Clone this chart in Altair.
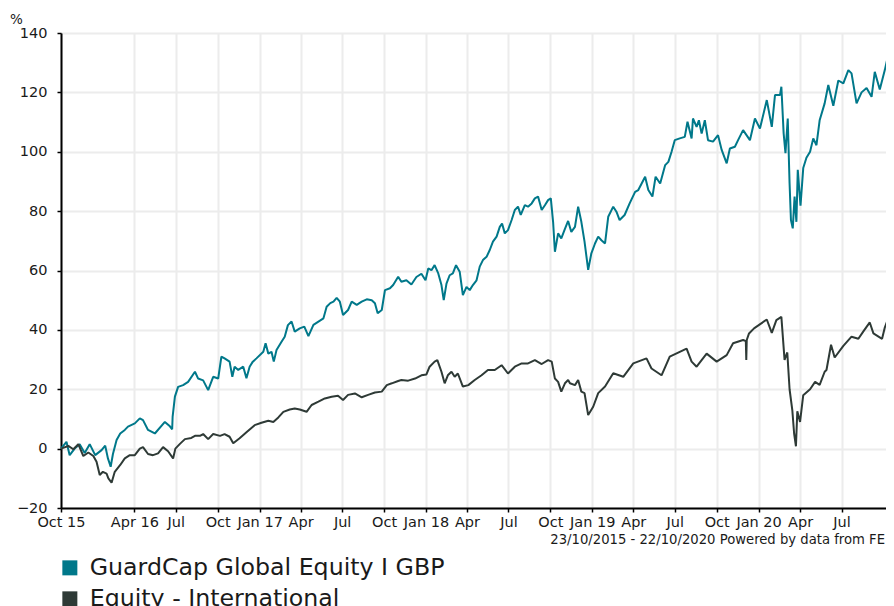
import altair as alt
import pandas as pd

FUND_NAME = "GuardCap Global Equity I GBP"
SECTOR_NAME = "Equity - International"
FUND_COLOR = "#00788a"
SECTOR_COLOR = "#2e3a36"

FUND_DATES = [
    "2015-10-23", "2015-11-04", "2015-11-11", "2015-11-22", "2015-12-03", "2015-12-14", "2015-12-25",
    "2016-01-06", "2016-01-20", "2016-01-28", "2016-02-03", "2016-02-09", "2016-02-14", "2016-02-22",
    "2016-03-01", "2016-03-11", "2016-03-18", "2016-04-02", "2016-04-13", "2016-04-20", "2016-05-01",
    "2016-05-16", "2016-06-07", "2016-06-18", "2016-06-23", "2016-06-24", "2016-06-29", "2016-07-06",
    "2016-07-17", "2016-07-28", "2016-08-12", "2016-08-19", "2016-08-30", "2016-09-10", "2016-09-21",
    "2016-10-02", "2016-10-09", "2016-10-16", "2016-10-27", "2016-11-02", "2016-11-07", "2016-11-15",
    "2016-11-26", "2016-12-03", "2016-12-10", "2016-12-17", "2016-12-25",
    "2017-01-09", "2017-01-14", "2017-01-20", "2017-01-27", "2017-02-01", "2017-02-07", "2017-02-18",
    "2017-02-25", "2017-03-04", "2017-03-12", "2017-03-19", "2017-03-30", "2017-04-09", "2017-04-18",
    "2017-04-29", "2017-05-10", "2017-05-21", "2017-05-28", "2017-06-05", "2017-06-12", "2017-06-19",
    "2017-06-26", "2017-07-03", "2017-07-14", "2017-07-22", "2017-08-02", "2017-08-13", "2017-08-24",
    "2017-09-04", "2017-09-11", "2017-09-17", "2017-09-26", "2017-10-03", "2017-10-14", "2017-10-21",
    "2017-11-01", "2017-11-08", "2017-11-19", "2017-11-30", "2017-12-11", "2017-12-22", "2017-12-31",
    "2018-01-06", "2018-01-13", "2018-01-20", "2018-01-28", "2018-02-04", "2018-02-09", "2018-02-15",
    "2018-02-22", "2018-03-01", "2018-03-08", "2018-03-16", "2018-03-23", "2018-03-31", "2018-04-07",
    "2018-04-14", "2018-04-22", "2018-04-29", "2018-05-06", "2018-05-14", "2018-05-21", "2018-05-28",
    "2018-06-05", "2018-06-12", "2018-06-17", "2018-06-23", "2018-06-30", "2018-07-08", "2018-07-15",
    "2018-07-22", "2018-07-28", "2018-08-06", "2018-08-13", "2018-08-21", "2018-08-28", "2018-09-04",
    "2018-09-12", "2018-09-19", "2018-09-26", "2018-10-02", "2018-10-07", "2018-10-11", "2018-10-18",
    "2018-10-25", "2018-11-02", "2018-11-09", "2018-11-16", "2018-11-24", "2018-12-01", "2018-12-08",
    "2018-12-15", "2018-12-23", "2018-12-30",
    "2019-01-07", "2019-01-14", "2019-01-21", "2019-01-29", "2019-02-05", "2019-02-16", "2019-02-23",
    "2019-03-02", "2019-03-13", "2019-03-24", "2019-04-05", "2019-04-12", "2019-04-27", "2019-05-04",
    "2019-05-13", "2019-05-20", "2019-05-30", "2019-06-10", "2019-06-17", "2019-06-24", "2019-07-01",
    "2019-07-12", "2019-07-23", "2019-07-29", "2019-08-07", "2019-08-10", "2019-08-18", "2019-08-23",
    "2019-08-29", "2019-09-05", "2019-09-12", "2019-09-23", "2019-10-04", "2019-10-12", "2019-10-23",
    "2019-10-30", "2019-11-10", "2019-11-17", "2019-11-28", "2019-12-13", "2019-12-24",
    "2020-01-04", "2020-01-19", "2020-01-30", "2020-02-06", "2020-02-17", "2020-02-20", "2020-02-25",
    "2020-02-29", "2020-03-05", "2020-03-09", "2020-03-12", "2020-03-16", "2020-03-20", "2020-03-24",
    "2020-03-27", "2020-04-02", "2020-04-08", "2020-04-15", "2020-04-23", "2020-04-30", "2020-05-07",
    "2020-05-14", "2020-05-25", "2020-06-02", "2020-06-13", "2020-06-24", "2020-07-05", "2020-07-16",
    "2020-07-23", "2020-08-03", "2020-08-14", "2020-08-25", "2020-09-05", "2020-09-12", "2020-09-23",
    "2020-10-04", "2020-10-12", "2020-10-22",
]
FUND_VALUES = [
    0.0, 2.3, -2.2, 0.0, 1.5, -1.5, 1.5,
    -2.2, -0.5, 1.0, -3.3, -6.1, -1.8, 2.9,
    5.1, 6.3, 7.4, 8.5, 10.2, 9.6, 6.3,
    5.1, 9.0, 7.5, 6.5, 10.8, 17.5, 20.8,
    21.4, 22.5, 25.9, 23.6, 23.0, 19.7, 24.2,
    23.6, 31.0, 30.4, 29.3, 24.2, 27.6, 26.5,
    27.6, 23.7, 27.6, 29.3, 30.4,
    32.6, 35.5, 32.0, 32.6, 29.3, 33.2, 36.0,
    37.7, 41.6, 42.8, 39.4, 40.5, 41.1, 37.9,
    41.7, 42.8, 43.9, 47.8, 49.0, 49.5, 50.8,
    49.5, 45.0, 46.7, 49.5, 48.4, 49.5, 50.3,
    50.0, 49.0, 45.6, 46.7, 53.4, 54.0, 55.1,
    57.9, 56.2, 56.7, 55.3, 57.8, 58.9, 56.7,
    60.7, 60.1, 61.8, 59.0, 55.1, 50.0, 55.6,
    58.4, 59.0, 61.8, 59.6, 51.7, 54.5, 53.4,
    55.1, 56.7, 61.3, 63.5, 64.6, 66.9, 69.7,
    71.4, 74.7, 75.8, 72.5, 73.6, 77.0, 80.4,
    81.5, 78.7, 82.0, 81.5, 82.6, 84.3, 84.9,
    80.4, 82.0, 83.7, 84.3, 76.4, 66.3, 72.5,
    70.8, 74.0, 76.7, 73.0, 74.7, 81.5, 76.4,
    69.7, 60.2, 65.8,
    69.1, 71.4, 70.2, 69.1, 78.1, 81.5, 79.8,
    77.0, 78.7, 82.6, 86.5, 87.1, 91.6, 87.1,
    84.9, 91.6, 89.3, 95.5, 96.6, 100.0, 103.9,
    104.5, 105.0, 110.1, 104.5, 111.2, 108.4, 110.6,
    106.1, 110.6, 103.9, 103.4, 105.6, 100.6, 96.1,
    101.1, 101.7, 103.9, 107.3, 103.9, 111.2,
    107.8, 117.4, 108.4, 119.1, 119.1, 121.9, 106.2,
    99.5, 111.2, 89.4, 77.0, 74.2, 84.9, 76.4,
    93.9, 81.8, 94.5, 98.0, 100.0, 104.5, 102.2,
    110.6, 116.3, 122.5, 115.5, 124.0, 123.0, 127.5,
    126.4, 116.3, 120.0, 121.5, 118.5, 126.9, 121.0,
    127.5, 133.0, 126.0,
]

SECTOR_DATES = [
    "2015-10-23", "2015-11-08", "2015-11-19", "2015-11-30", "2015-12-11", "2015-12-22",
    "2016-01-02", "2016-01-09", "2016-01-16", "2016-01-23", "2016-01-31", "2016-02-04", "2016-02-11",
    "2016-02-18", "2016-03-01", "2016-03-11", "2016-03-22", "2016-04-02", "2016-04-13", "2016-04-20",
    "2016-05-01", "2016-05-12", "2016-05-23", "2016-06-03", "2016-06-14", "2016-06-25", "2016-06-30",
    "2016-07-10", "2016-07-21", "2016-08-04", "2016-08-12", "2016-08-23", "2016-08-30", "2016-09-10",
    "2016-09-21", "2016-10-06", "2016-10-16", "2016-10-27", "2016-11-04", "2016-11-18", "2016-12-03",
    "2016-12-21",
    "2017-01-05", "2017-01-20", "2017-01-31", "2017-02-11", "2017-02-22", "2017-03-08", "2017-03-19",
    "2017-03-30", "2017-04-14", "2017-04-25", "2017-05-10", "2017-05-24", "2017-06-08", "2017-06-22",
    "2017-07-03", "2017-07-14", "2017-07-29", "2017-08-13", "2017-08-27", "2017-09-11", "2017-09-26",
    "2017-10-07", "2017-10-18", "2017-11-01", "2017-11-08", "2017-11-23", "2017-12-08", "2017-12-22",
    "2018-01-02", "2018-01-09", "2018-01-20", "2018-01-26", "2018-02-04", "2018-02-11", "2018-02-18",
    "2018-02-26", "2018-03-05", "2018-03-12", "2018-03-23", "2018-04-04", "2018-04-18", "2018-05-03",
    "2018-05-17", "2018-06-01", "2018-06-16", "2018-06-30", "2018-07-15", "2018-07-30", "2018-08-13",
    "2018-08-28", "2018-09-12", "2018-09-26", "2018-10-04", "2018-10-11", "2018-10-18", "2018-10-25",
    "2018-11-02", "2018-11-09", "2018-11-13", "2018-11-24", "2018-12-01", "2018-12-08", "2018-12-15",
    "2018-12-23",
    "2019-01-03", "2019-01-14", "2019-01-29", "2019-02-16", "2019-03-10", "2019-04-01", "2019-04-30",
    "2019-05-11", "2019-06-02", "2019-06-20", "2019-07-12", "2019-07-27", "2019-08-07", "2019-08-18",
    "2019-09-09", "2019-10-01", "2019-10-23", "2019-11-06", "2019-11-28", "2019-12-04", "2019-12-05",
    "2019-12-06", "2019-12-11", "2019-12-22",
    "2020-01-19", "2020-01-30", "2020-02-09", "2020-02-20", "2020-02-27", "2020-03-04", "2020-03-09",
    "2020-03-15", "2020-03-19", "2020-03-23", "2020-03-26", "2020-04-01", "2020-04-08", "2020-04-23",
    "2020-05-04", "2020-05-14", "2020-05-25", "2020-05-29", "2020-06-08", "2020-06-16", "2020-07-05",
    "2020-07-23", "2020-08-07", "2020-08-18", "2020-09-01", "2020-09-09", "2020-09-28", "2020-10-04",
    "2020-10-13", "2020-10-22",
]
SECTOR_VALUES = [
    0.0, 0.9, -0.2, 1.5, -2.5, -1.3,
    -2.5, -4.4, -8.9, -7.8, -8.4, -10.0, -11.5,
    -7.8, -5.5, -3.3, -2.2, -2.2, 0.0, 0.5,
    -1.8, -2.2, -1.6, 0.5, -0.9, -3.3, 0.0,
    1.6, 3.2, 3.6, 4.3, 4.3, 4.9, 3.2,
    4.9, 4.3, 4.9, 4.0, 1.8, 3.5, 5.5,
    7.9,
    8.7, 9.4, 9.0, 10.5, 12.4, 13.2, 13.5,
    13.2, 12.4, 14.7, 15.8, 16.9, 17.5, 17.8,
    16.4, 18.1, 18.6, 17.3, 18.1, 18.9, 19.2,
    21.4, 22.0, 22.8, 23.1, 22.9, 23.6, 24.7,
    25.0, 27.6, 29.3, 29.8, 25.9, 22.0, 24.7,
    25.9, 24.2, 25.3, 20.9, 21.4, 23.1, 24.7,
    26.5, 26.5, 28.1, 25.3, 27.6, 28.7, 28.7,
    29.8, 28.5, 29.8, 29.3, 23.6, 22.5, 19.2,
    22.0, 23.1, 22.0, 21.4, 23.1, 19.2, 18.7,
    11.3,
    14.1, 18.7, 20.9, 25.4, 24.2, 28.7, 30.4,
    27.0, 24.7, 31.0, 32.6, 33.7, 29.3, 27.6,
    32.0, 29.3, 31.5, 35.5, 36.6, 36.2, 29.9,
    36.6, 38.8, 40.5,
    43.5, 39.0, 43.3, 44.4, 29.9, 32.4, 20.0,
    13.0, 5.1, 0.8, 12.6, 9.0, 18.0, 20.0,
    22.5, 21.5, 25.9, 26.5, 35.0, 30.7, 34.6,
    37.7, 37.0, 39.5, 42.5, 38.8, 37.0, 40.8,
    44.4, 42.2,
]

Y_TICKS = [-20, 0, 20, 40, 60, 80, 100, 120, 140]
X_TICK_DATES = [
    "2015-10-23", "2016-04-01", "2016-07-01", "2016-10-01", "2017-01-01", "2017-04-01", "2017-07-01",
    "2017-10-01", "2018-01-01", "2018-04-01", "2018-07-01", "2018-10-01", "2019-01-01", "2019-04-01",
    "2019-07-01", "2019-10-01", "2020-01-01", "2020-04-01", "2020-07-01", "2020-10-22",
]
X_TICK_LABELS = [
    "Oct 15", "Apr 16", "Jul", "Oct", "Jan 17", "Apr", "Jul",
    "Oct", "Jan 18", "Apr", "Jul", "Oct", "Jan 19", "Apr",
    "Jul", "Oct", "Jan 20", "Apr", "Jul", "",
]
X_DOMAIN = ["2015-10-23", "2020-10-22"]
FOOTNOTE = "23/10/2015 - 22/10/2020 Powered by data from FE"

FONT = "DejaVu Sans"


def ms(d):
    return int(pd.Timestamp(d, tz="UTC").value // 10**6)


df = pd.concat([
    pd.DataFrame({"date": FUND_DATES, "value": FUND_VALUES, "series": FUND_NAME}),
    pd.DataFrame({"date": SECTOR_DATES, "value": SECTOR_VALUES, "series": SECTOR_NAME}),
], ignore_index=True)

label_expr = "[" + ",".join(f"'{l}'" for l in X_TICK_LABELS) + "][indexof([" + \
    ",".join(f"'{d}'" for d in X_TICK_DATES) + "], utcFormat(datum.value, '%Y-%m-%d'))]"

color_scale = alt.Scale(domain=[FUND_NAME, SECTOR_NAME], range=[FUND_COLOR, SECTOR_COLOR])

x_enc = alt.X(
    "date:T",
    scale=alt.Scale(type="utc", domain=[ms(d) for d in X_DOMAIN], nice=False),
    axis=alt.Axis(
        values=[ms(d) for d in X_TICK_DATES], labelExpr=label_expr, title=None,
        grid=True, gridColor="#ececec", gridWidth=2,
        domainColor="#000", domainWidth=2, tickColor="#000", tickWidth=1.5, tickSize=4,
        labelFont=FONT, labelFontSize=14.5, labelColor="#1a1a1a", labelPadding=3,
        labelOverlap=False, labelFlush=False,
    ),
)
y_enc = alt.Y(
    "value:Q",
    scale=alt.Scale(domain=[-20, 140], nice=False, zero=False),
    axis=alt.Axis(
        values=Y_TICKS, title="%", titleAngle=0, titleX=-45, titleY=-10, titleAlign="center",
        titleBaseline="alphabetic", titleFont=FONT, titleFontSize=13.5, titleFontWeight="normal",
        titleColor="#1a1a1a",
        grid=True, gridColor="#ececec", gridWidth=2,
        domainColor="#000", domainWidth=2, tickColor="#000", tickWidth=1.5, tickSize=4,
        labelFont=FONT, labelFontSize=14.5, labelColor="#1a1a1a", labelPadding=10,
    ),
)

lines = alt.Chart(df).mark_line(strokeWidth=2, strokeJoin="bevel").encode(
    x=x_enc, y=y_enc,
    color=alt.Color("series:N", scale=color_scale, legend=alt.Legend(
        title=None, orient="none", legendX=-3, legendY=523, direction="vertical",
        symbolType="square", symbolSize=56.25, symbolStrokeWidth=7.5,
        labelFont=FONT, labelFontSize=23.7, labelColor="#1a1a1a", labelOffset=8,
        labelLimit=600, rowPadding=-10.5, padding=0,
    )),
    detail="series:N",
)

foot = alt.Chart(pd.DataFrame({"t": [FOOTNOTE]})).mark_text(
    align="right", baseline="alphabetic", font=FONT, fontSize=13.2, color="#1a1a1a",
).encode(text="t:N", x=alt.value(824), y=alt.value(511))

chart = alt.layer(lines, foot).properties(
    width=832, height=475,
    padding={"left": 53, "top": 25, "right": -7, "bottom": 100},
    autosize=alt.AutoSizeParams(type="none"),
).configure_view(stroke=None).configure(background="white")

chart.save("out.html", embed_options={"renderer": "svg", "actions": False})
